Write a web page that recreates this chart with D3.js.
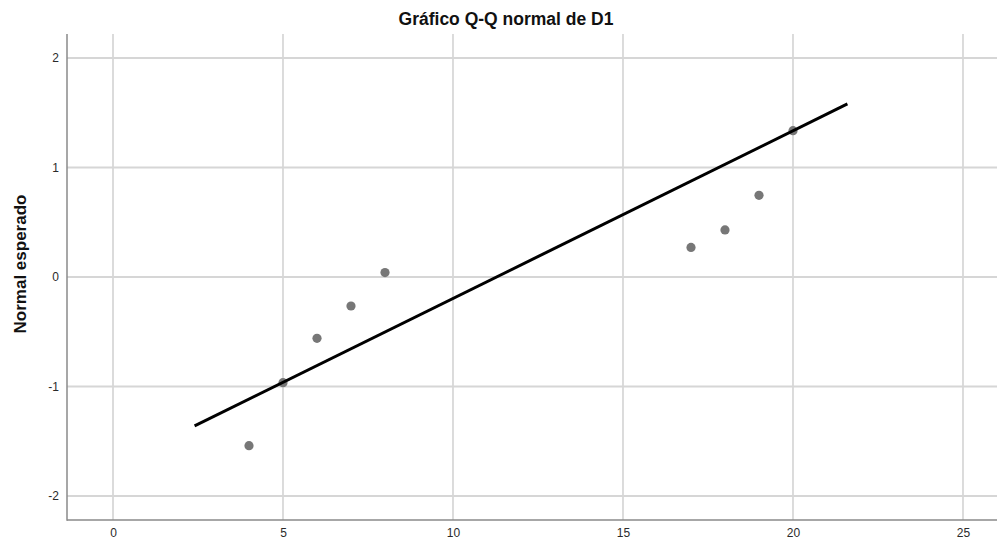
<!DOCTYPE html>
<html>
<head>
<meta charset="utf-8">
<script src="https://cdn.jsdelivr.net/npm/d3@7"></script>
<style>
  body { margin: 0; background: #fff; }
  svg { display: block; font-family: "Liberation Sans", Arial, sans-serif; }
</style>
</head>
<body>
<svg id="chart" width="997" height="538"></svg>
<script>
const title = "Gráfico Q-Q normal de D1";
const yLabel = "Normal esperado";
const observed = [4, 5, 6, 7, 8, 17, 18, 19, 20];
const expectedNormal = [-1.54, -0.965, -0.56, -0.265, 0.04, 0.27, 0.43, 0.746, 1.336];
const xTicks = [0, 5, 10, 15, 20, 25];
const yTicks = [-2, -1, 0, 1, 2];
const lineX = [2.4, 21.6];
const lineMean = 11.28;
const lineSd = 6.53;

const svg = d3.select("#chart");
const mLeft = 67, mRight = 997, mTop = 34, mBottom = 520;

const x = d3.scaleLinear().domain([-1.353, 26.0]).range([mLeft, mRight]);
const y = d3.scaleLinear().domain([-2.219, 2.219]).range([mBottom, mTop]);

// gridlines
svg.append("g").selectAll("line").data(xTicks).join("line")
  .attr("x1", d => x(d)).attr("x2", d => x(d))
  .attr("y1", mTop).attr("y2", mBottom)
  .attr("stroke", "#c4c4c4").attr("stroke-width", 1.2);
svg.append("g").selectAll("line").data(yTicks).join("line")
  .attr("x1", mLeft).attr("x2", mRight)
  .attr("y1", d => y(d)).attr("y2", d => y(d))
  .attr("stroke", "#d6d6d6").attr("stroke-width", 1.8);

// axes
const fmt = d => String(d);
const xAxis = d3.axisBottom(x).tickValues(xTicks).tickFormat(fmt).tickSize(0).tickPadding(8);
const gx = svg.append("g").attr("transform", `translate(0,${mBottom})`).call(xAxis);
const yAxis = d3.axisLeft(y).tickValues(yTicks).tickFormat(fmt).tickSize(0).tickPadding(8);
const gy = svg.append("g").attr("transform", `translate(${mLeft},0)`).call(yAxis);
[gx, gy].forEach(g => {
  g.select(".domain").remove();
  g.selectAll("text").attr("font-size", 12).attr("fill", "#2a2a2a")
    .attr("font-family", "'Liberation Sans', Arial, sans-serif");
});
svg.append("line").attr("x1", mLeft).attr("x2", mLeft).attr("y1", mTop).attr("y2", mBottom + 0.75)
  .attr("stroke", "#8a8a8a").attr("stroke-width", 1.5);
svg.append("line").attr("x1", mLeft).attr("x2", mRight).attr("y1", mBottom).attr("y2", mBottom)
  .attr("stroke", "#8a8a8a").attr("stroke-width", 1.5);

// points
const pts = observed.map((v, i) => ({ x: v, y: expectedNormal[i] }));
svg.append("g").selectAll("circle").data(pts).join("circle")
  .attr("cx", d => x(d.x)).attr("cy", d => y(d.y))
  .attr("r", 4.6).attr("fill", "#777");

// reference line
const lineData = lineX.map(v => ({ x: v, y: (v - lineMean) / lineSd }));
svg.append("path").datum(lineData)
  .attr("d", d3.line().x(d => x(d.x)).y(d => y(d.y)))
  .attr("stroke", "#000").attr("stroke-width", 3).attr("fill", "none");

// title
svg.append("text").attr("x", 506).attr("y", 25).attr("text-anchor", "middle")
  .attr("font-size", 17.5).attr("font-weight", "bold").attr("fill", "#111").text(title);

// y label
svg.append("text").attr("transform", "translate(26,264) rotate(-90)")
  .attr("text-anchor", "middle").attr("font-size", 17).attr("font-weight", "bold")
  .attr("fill", "#111").text(yLabel);
</script>
</body>
</html>
